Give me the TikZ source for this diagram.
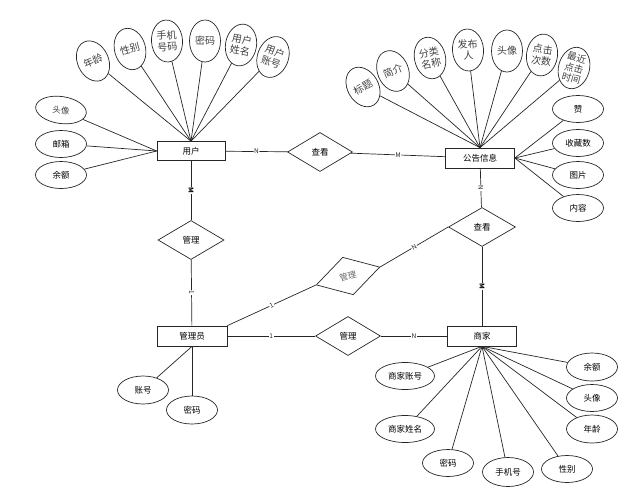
\documentclass[tikz,border=0pt]{standalone}
\usepackage{fontspec}
\setmainfont{Noto Sans CJK SC}
\usetikzlibrary{shapes.geometric}
\begin{document}
\begin{tikzpicture}[x=1pt,y=-1pt, line width=0.7pt, color=black!85,
  ent/.style={draw, rectangle, minimum width=69pt, minimum height=20pt, inner sep=0pt, text=black, font=\fontsize{8.5}{9}\selectfont},
  rel/.style={draw, diamond, aspect=1.67, minimum width=65pt, minimum height=39pt, inner sep=0pt, text=black, font=\fontsize{8.5}{9}\selectfont},
  tall/.style={draw, ellipse, minimum width=31pt, minimum height=42pt, inner sep=0pt, align=center, text=black!75, font=\fontsize{10}{11.5}\selectfont},
  wide/.style={draw, ellipse, minimum width=51pt, minimum height=27pt, inner sep=0pt, text=black, font=\fontsize{8.5}{9}\selectfont},
  lab/.style={fill=white, inner sep=0.6pt, font=\fontsize{6.5}{7}\selectfont, sloped},
  blk/.style={fill=white, inner sep=0.6pt, text=black, font=\bfseries\fontsize{6.5}{7}\selectfont, sloped}]
\useasboundingbox (0,0) rectangle (644,491);
% entities
\node[ent, minimum width=68pt, minimum height=19pt] (user) at (191,151) {用户};
\node[ent] (info) at (480,158) {公告信息};
\node[ent, minimum width=70pt] (admin) at (192,336) {管理员};
\node[ent] (shop) at (482,336) {商家};
% relations
\node[rel] (see1) at (320,152) {查看};
\node[rel, minimum width=66pt] (mg1) at (191,240) {管理};
\node[rel, minimum width=67pt] (see2) at (482,227) {查看};
\node[rel] (mg3) at (348,336) {管理};
\node[rel, minimum width=66pt, rotate=15.7, text=black!60] (mg2) at (348,276) {管理};
% relation lines
\draw (user) -- node[lab]{N} (see1);
\draw (see1) -- node[lab]{M} (info);
\draw (user) -- node[blk]{M} (mg1);
\draw (mg1) -- node[lab]{1} (admin);
\draw (info) -- node[lab]{N} (see2);
\draw (see2) -- node[blk]{M} (shop);
\draw (admin) -- node[lab]{1} (mg3);
\draw (mg3) -- node[lab]{N} (shop);
\draw (admin.north east) -- node[lab]{1} (mg2.west);
\draw (mg2.east) -- node[lab]{N} (see2.west);
% user attributes (fan)
\node[tall, rotate=25] (u1) at (93,61) {年龄};
\node[tall, rotate=15] (u2) at (130,49) {性别};
\node[tall, rotate=4] (u3) at (167,41) {手机\\号码};
\node[tall] (u4) at (205,41) {密码};
\node[tall, rotate=-10] (u5) at (241,45) {用户\\姓名};
\node[tall, rotate=-20] (u6) at (273,57) {用户\\账号};
\foreach \n in {u1,u2,u3,u4,u5,u6} \draw (\n) -- (user.north);
% user attributes (left)
\node[wide, rotate=-8, text=black!75] (u7) at (61,110) {头像};
\node[wide] (u8) at (61,144) {邮箱};
\node[wide] (u9) at (61,175) {余额};
\foreach \n in {u7,u8,u9} \draw (\n) -- (user.west);
% info attributes (fan)
\node[tall, rotate=30] (i1) at (363,87) {标题};
\node[tall, rotate=22] (i2) at (393,71) {简介};
\node[tall, rotate=13] (i3) at (430,58) {分类\\名称};
\node[tall, rotate=4] (i4) at (468,50) {发布\\人};
\node[tall] (i5) at (507,51) {头像};
\node[tall, rotate=-8] (i6) at (542,55) {点击\\次数};
\node[tall, rotate=-15, font=\fontsize{9.5}{10.5}\selectfont] (i7) at (574,68) {最近\\点击\\时间};
\foreach \n in {i1,i2,i3,i4,i5,i6,i7} \draw (\n) -- (info.north);
% info attributes (right)
\node[wide] (i8) at (578,109) {赞};
\node[wide] (i9) at (578,143) {收藏数};
\node[wide] (i10) at (578,175) {图片};
\node[wide] (i11) at (578,208) {内容};
\foreach \n in {i8,i9,i10,i11} \draw (\n) -- (info.east);
% admin attributes
\node[wide, minimum height=28pt] (a1) at (143,390) {账号};
\node[wide, minimum height=28pt] (a2) at (192,410) {密码};
\foreach \n in {a1,a2} \draw (\n) -- (admin.south);
% shop attributes
\node[wide, minimum width=59pt] (s1) at (405,376) {商家账号};
\node[wide, minimum width=59pt] (s2) at (405,429) {商家姓名};
\node[wide] (s3) at (448,463) {密码};
\node[wide, minimum height=29pt] (s4) at (508,472) {手机号};
\node[wide] (s5) at (567,469) {性别};
\node[wide, minimum height=28pt] (s6) at (592,429) {年龄};
\node[wide] (s7) at (592,398) {头像};
\node[wide, minimum height=28pt] (s8) at (592,367) {余额};
\foreach \n in {s1,s2,s3,s4,s5,s6,s7,s8} \draw (\n) -- (shop.south);
\end{tikzpicture}
\end{document}
